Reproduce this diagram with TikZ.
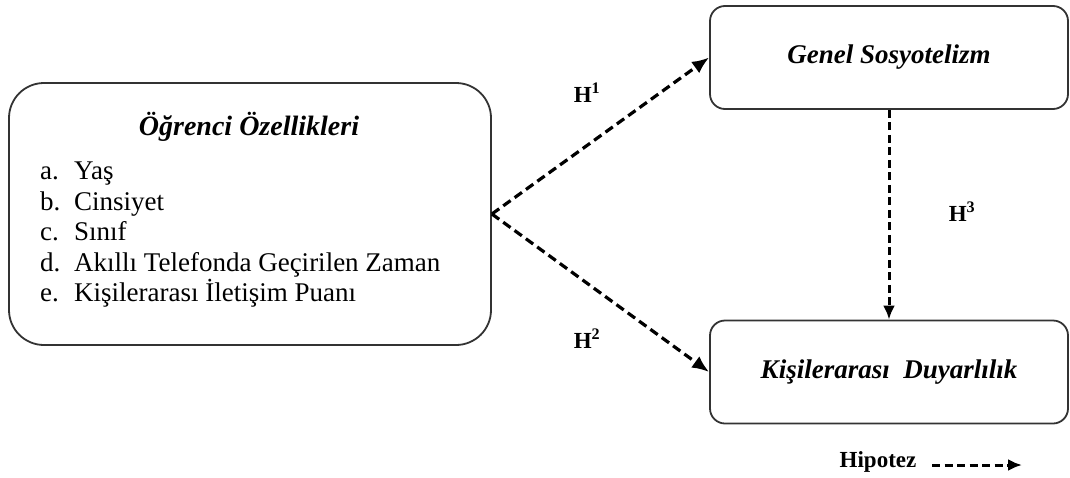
\documentclass[tikz,border=0pt]{standalone}
\usepackage{fontspec}
\setmainfont{Liberation Serif}
\usepackage{tikz}
\usetikzlibrary
  {
    arrows.meta,              % arrow heads
    positioning,              % place nodes relative to other nodes
  }

\begin{document}
\begin{tikzpicture}
    [
      x=1pt, y=-1pt,
      factor/.style=
        {
          rectangle,
          rounded corners=15pt,
          line width=1.8pt,
          draw=black!80,
          inner sep=0pt,
          minimum width=358pt,
          minimum height=103pt,
          font=\fontsize{27}{30}\selectfont\bfseries\itshape,
        },
      student/.style=
        {
          factor,
          rounded corners=35pt,
          minimum width=482pt,
          minimum height=262pt,
        },
      hypo/.style=
        {
          dash pattern=on 9pt off 5pt,
          line width=3.2pt,
          -{Latex[length=17pt,width=14pt]},
        },
      thinhypo/.style=
        {
          hypo,
          line width=3pt,
          dash pattern=on 8pt off 4.5pt,
          -{Latex[length=14pt,width=12pt]},
        },
      hlabel/.style=
        {
          inner sep=0pt,
          font=\fontsize{23}{25}\selectfont\bfseries,
        },
    ]
    \useasboundingbox (0,0) rectangle (1070,477);

    % boxes
    \node (ogr) [student] at (250,214) {};
    \node (genel) [factor] at (889,57.5) {Genel Sosyotelizm};
    \node (kisi) [factor] at (889,372) {Ki\c{s}ilerarası\ \ Duyarlılık};

    % inside the student box
    \node (ogrtitle) [inner sep=0pt, font=\fontsize{28}{30}\selectfont\bfseries\itshape]
      at (249,127) {Öğrenci Özellikleri};
    \node (ogrlist) [inner sep=0pt, anchor=north west, align=left,
                     font=\fontsize{27}{30.5}\selectfont]
      at (40,162)
      {\makebox[34pt][l]{a.}Yaş\\
       \makebox[34pt][l]{b.}Cinsiyet\\
       \makebox[34pt][l]{c.}Sınıf\\
       \makebox[34pt][l]{d.}Akıllı Telefonda Geçirilen Zaman\\
       \makebox[34pt][l]{e.}Kişilerarası İletişim Puanı};

    % hypotheses
    \draw [hypo] (ogr.east) -- (genel.west);
    \draw [hypo] (ogr.east) -- (kisi.west);
    \draw [thinhypo] (genel.south) -- (kisi.north);

    \node (h1) [hlabel] at (587,93) {H\textsuperscript{1}};
    \node (h2) [hlabel] at (587,339) {H\textsuperscript{2}};
    \node (h3) [hlabel] at (962,212) {H\textsuperscript{3}};

    % legend
    \node (legtext) [hlabel] at (878,462) {Hipotez};
    \coordinate (legstart) at (932,465);
    \coordinate (legend) at (1022,465);
    \draw [thinhypo] (legstart) -- (legend);
  \end{tikzpicture}
\end{document}
